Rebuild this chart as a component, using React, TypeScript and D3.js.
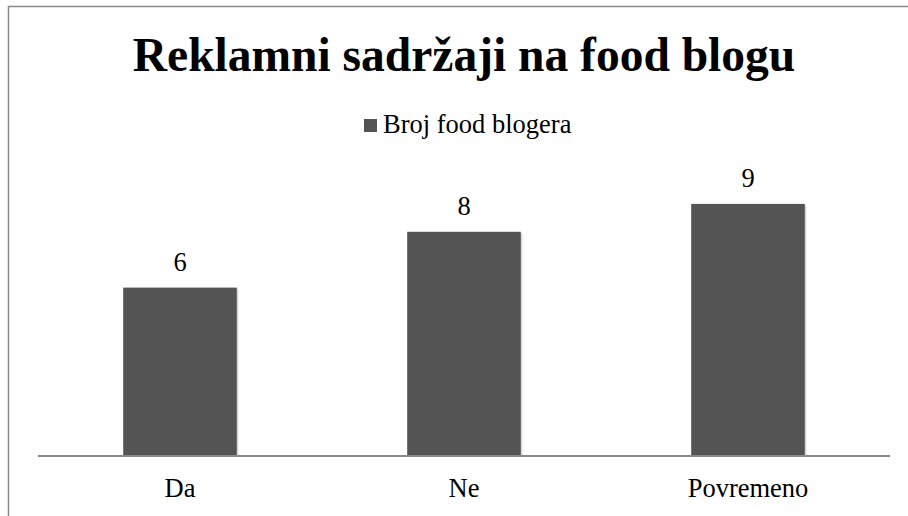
import React from "react";
import * as d3 from "d3";

const categories = ["Da", "Ne", "Povremeno"];
const values = [6, 8, 9];
const seriesName = "Broj food blogera";
const title = "Reklamni sadržaji na food blogu";

const W = 908;
const H = 516;
const barColor = "#545454";
const fontList = "Times New Roman, Liberation Serif, Tinos, serif";

export default function App() {
  const x = d3.scaleBand<string>()
    .domain(categories)
    .range([38, 890])
    .paddingInner(0.6)
    .paddingOuter(0.3);

  const y = d3.scaleLinear()
    .domain([0, 10])
    .range([455, 176]);

  const data = categories.map((c, i) => ({ name: c, value: values[i] }));
  const [x0, x1] = x.range();

  return (
    <svg width={W} height={H} fontFamily={fontList} style={{ position: "absolute", left: 0, top: 0, fontFamily: fontList }}>
      {/* chart frame, runs off right and bottom */}
      <rect x={8.5} y={6.5} width={W + 20} height={H + 20} fill="none" stroke="#8a8a8a" strokeWidth={1.5} />

      <text x={464} y={71} fontSize={47.5} fontWeight="bold" textAnchor="middle" fontFamily={fontList}>
        {title}
      </text>

      <rect x={364} y={119} width={13} height={13} fill={barColor} />
      <text x={383} y={133} fontSize={26.5} fontFamily={fontList}>
        {seriesName}
      </text>

      {data.map(d => (
        <g key={d.name}>
          <rect
            x={x(d.name)! + 2}
            y={y(d.value) + 2}
            width={x.bandwidth()}
            height={y(0) - y(d.value)}
            fill="#000"
            fillOpacity={0.08}
          />
          <rect
            x={x(d.name)! + 1}
            y={y(d.value) + 1}
            width={x.bandwidth()}
            height={y(0) - y(d.value)}
            fill="#000"
            fillOpacity={0.1}
          />
          <rect
            x={x(d.name)}
            y={y(d.value)}
            width={x.bandwidth()}
            height={y(0) - y(d.value)}
            fill={barColor}
          />
        </g>
      ))}

      {data.map(d => (
        <text
          key={"v" + d.name}
          x={x(d.name)! + x.bandwidth() / 2}
          y={y(d.value) - 17}
          fontSize={26.5}
          textAnchor="middle"
          fontFamily={fontList}
        >
          {d.value}
        </text>
      ))}

      <path d={`M${x0},${y(0) + 1}H${x1}`} stroke="#8a8a8a" strokeWidth={1.8} fill="none" />

      {categories.map(c => (
        <text
          key={"c" + c}
          x={x(c)! + x.bandwidth() / 2}
          y={y(0) + 42}
          fontSize={26.5}
          textAnchor="middle"
          fontFamily={fontList}
        >
          {c}
        </text>
      ))}
    </svg>
  );
}
